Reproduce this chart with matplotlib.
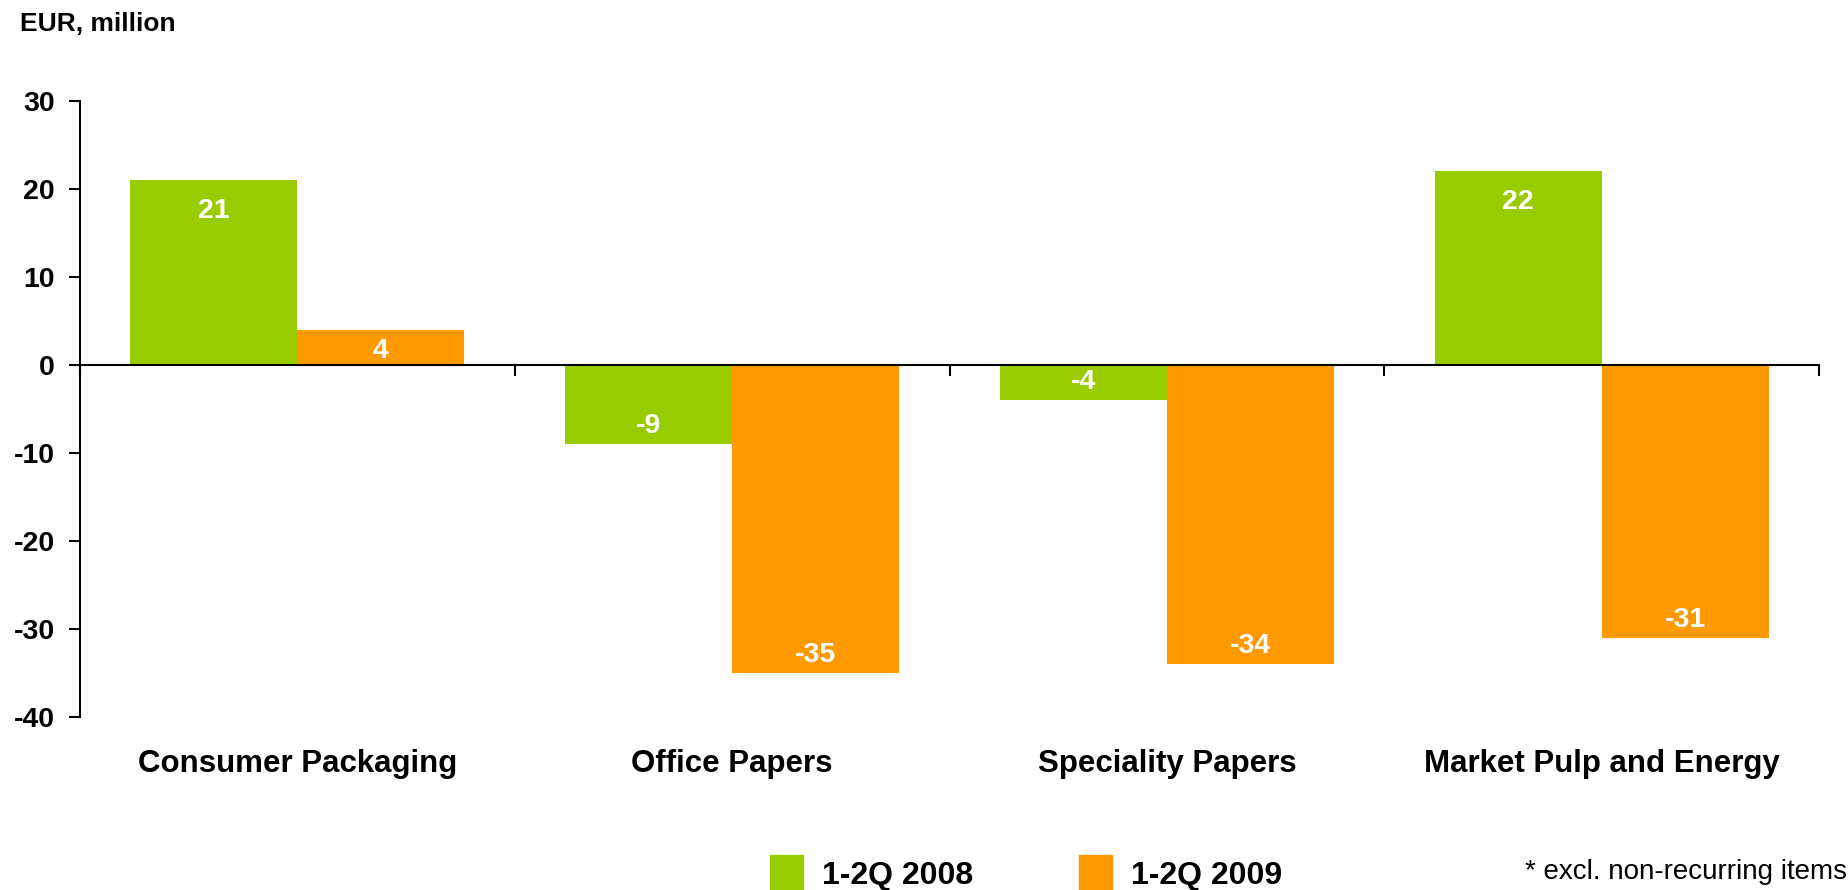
import numpy as np
import matplotlib
matplotlib.use("Agg")
import matplotlib.pyplot as plt
from matplotlib.patches import Patch

plt.rcParams['font.family'] = ['Liberation Sans', 'DejaVu Sans']

# data
categories = ['Consumer Packaging', 'Office Papers', 'Speciality Papers', 'Market Pulp and Energy']
series_names = ['1-2Q 2008', '1-2Q 2009']
values_2008 = [21, -9, -4, 22]
values_2009 = [4, -35, -34, -31]
yticks = [-40, -30, -20, -10, 0, 10, 20, 30]

green = '#99CC00'
orange = '#FF9900'


def label_bars(ax, xs, vals, pt_per_unit):
    # labels sit inside the end of the bar
    for x, v in zip(xs, vals):
        h = abs(v) * pt_per_unit
        if v > 0:
            off = -min(22, 0.6 * h)
        else:
            off = min(13, 0.6 * h)
        ax.annotate(str(v), xy=(x, v), xytext=(0, off), textcoords='offset points',
                    ha='center', va='center', color='white', fontsize=20.5, fontweight='bold')


def main():
    fig = plt.figure(figsize=(18.49, 8.90), dpi=100)
    ax = fig.add_axes([0.0433, 0.1944, 0.9405, 0.6921])

    x = np.arange(len(categories))
    w = 0.384
    ax.bar(x - w / 2, values_2008, w, color=green, zorder=1)
    ax.bar(x + w / 2, values_2009, w, color=orange, zorder=1)

    ax.set_xlim(-0.5, len(categories) - 0.5)
    ax.set_ylim(-40, 30)

    pt_per_unit = 0.6921 * 8.90 * 72 / 70.0
    label_bars(ax, x - w / 2, values_2008, pt_per_unit)
    label_bars(ax, x + w / 2, values_2009, pt_per_unit)

    # axes styling
    for s in ['top', 'right']:
        ax.spines[s].set_visible(False)
    ax.spines['bottom'].set_position(('data', 0))
    ax.spines['bottom'].set_zorder(3)
    for s in ['left', 'bottom']:
        ax.spines[s].set_linewidth(1.5)

    ax.set_yticks(yticks)
    ax.set_yticklabels([str(t) for t in yticks], fontsize=20.5, fontweight='bold')
    ax.tick_params(axis='y', direction='out', length=8, width=1.5, pad=10)
    ax.set_xticks(np.arange(len(categories) + 1) - 0.5)
    ax.set_xticklabels([])
    ax.tick_params(axis='x', direction='out', length=8, width=1.5)

    for i, cat in enumerate(categories):
        ax.annotate(cat, xy=(i, 0), xycoords=('data', 'axes fraction'),
                    xytext=(0, -34), textcoords='offset points',
                    ha='center', va='center', fontsize=22.5, fontweight='bold')

    fig.text(20 / 1849, 1 - 24 / 890, 'EUR, million', fontsize=19, fontweight='bold',
             ha='left', va='center')

    handles = [Patch(color=green), Patch(color=orange)]
    fig.legend(handles, series_names, loc='center left', bbox_to_anchor=(770 / 1849, 17 / 890),
               ncol=2, frameon=False, borderpad=0, borderaxespad=0,
               handlelength=1.03, handleheight=1.35, handletextpad=0.6, columnspacing=3.3,
               prop={'size': 23, 'weight': 'bold'})

    fig.text(0.999, 18 / 890, '* excl. non-recurring items', fontsize=20, ha='right', va='center')

    fig.savefig('out.png', dpi=100)


if __name__ == '__main__':
    main()
